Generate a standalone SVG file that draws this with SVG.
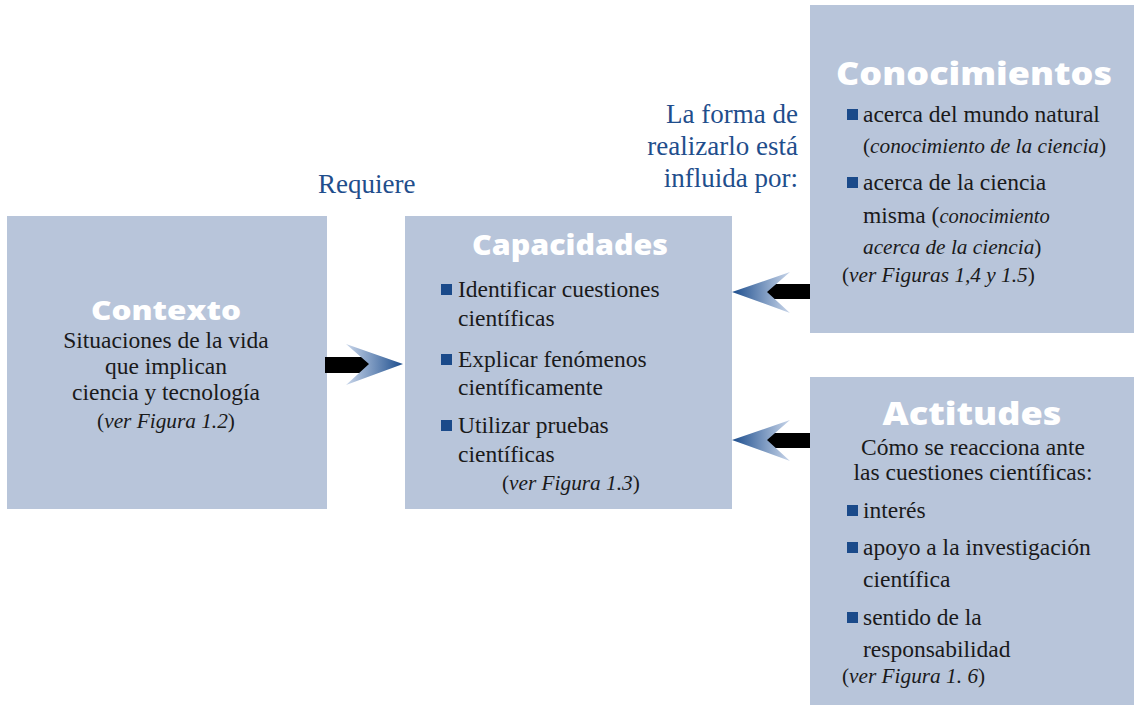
<svg xmlns="http://www.w3.org/2000/svg" width="1134" height="707" viewBox="0 0 1134 707">
<defs>
<linearGradient id="gR" x1="0" y1="0" x2="1" y2="0">
<stop offset="0" stop-color="#c9d6ea"/>
<stop offset="1" stop-color="#1c4d8d"/>
</linearGradient>
<linearGradient id="gL" x1="1" y1="0" x2="0" y2="0">
<stop offset="0" stop-color="#c9d6ea"/>
<stop offset="1" stop-color="#1c4d8d"/>
</linearGradient>
<style>
.box{fill:#b8c5da}
.title{font-family:'Open Sans','DejaVu Sans',sans-serif;font-weight:800;fill:#ffffff;text-anchor:middle}
.body{font-family:'Liberation Serif','Times New Roman',serif;font-size:23.5px;fill:#1a1a1a}
.sm{font-size:21.3px}
.c{text-anchor:middle}
.lbl{font-family:'Liberation Serif','Times New Roman',serif;font-size:27px;fill:#1f4e8c}
.r{text-anchor:end}
.bul{fill:#1a4a8a}
.it{font-style:italic}
</style>
</defs>
<rect x="0" y="0" width="1134" height="707" fill="#ffffff"/>

<g id="contexto">
<rect class="box" x="7" y="216" width="320" height="293"/>
<text class="title" x="166" y="320" font-size="26" textLength="150" lengthAdjust="spacingAndGlyphs">Contexto</text>
<text class="body c" x="166" y="348">Situaciones de la vida</text>
<text class="body c" x="166" y="374">que implican</text>
<text class="body c" x="166" y="400">ciencia y tecnología</text>
<text class="body sm c" x="166" y="428">(<tspan class="it">ver Figura 1.2</tspan>)</text>
</g>

<g id="capacidades">
<rect class="box" x="405" y="216" width="327" height="293"/>
<text class="title" x="570" y="255" font-size="28" textLength="196" lengthAdjust="spacingAndGlyphs">Capacidades</text>
<rect class="bul" x="441" y="284" width="11" height="11"/>
<text class="body" x="458" y="297">Identificar cuestiones</text>
<text class="body" x="458" y="326">científicas</text>
<rect class="bul" x="441" y="354" width="11" height="11"/>
<text class="body" x="458" y="367">Explicar fenómenos</text>
<text class="body" x="458" y="395">científicamente</text>
<rect class="bul" x="441" y="420" width="11" height="11"/>
<text class="body" x="458" y="433">Utilizar pruebas</text>
<text class="body" x="458" y="462">científicas</text>
<text class="body sm" x="502" y="490">(<tspan class="it">ver Figura 1.3</tspan>)</text>
</g>

<g id="conocimientos">
<rect class="box" x="810" y="5" width="324" height="328"/>
<text class="title" x="974" y="85" font-size="31" textLength="276" lengthAdjust="spacingAndGlyphs">Conocimientos</text>
<rect class="bul" x="847" y="109" width="11" height="11"/>
<text class="body" x="863" y="122">acerca del mundo natural</text>
<text class="body sm" x="863" y="153">(<tspan class="it">conocimiento de la ciencia</tspan>)</text>
<rect class="bul" x="847" y="177" width="11" height="11"/>
<text class="body" x="863" y="190">acerca de la ciencia</text>
<text class="body" x="863" y="223">misma (<tspan class="it" font-size="20.5">conocimiento</tspan></text>
<text class="body sm" x="863" y="254"><tspan class="it">acerca de la ciencia</tspan>)</text>
<text class="body sm" x="842" y="282">(<tspan class="it">ver Figuras 1,4 y 1.5</tspan>)</text>
</g>

<g id="actitudes">
<rect class="box" x="810" y="377" width="324" height="328"/>
<text class="title" x="972" y="425" font-size="31" textLength="179" lengthAdjust="spacingAndGlyphs">Actitudes</text>
<text class="body c" x="973" y="455">Cómo se reacciona ante</text>
<text class="body c" x="973" y="480">las cuestiones científicas:</text>
<rect class="bul" x="847" y="505" width="11" height="11"/>
<text class="body" x="863" y="518">interés</text>
<rect class="bul" x="847" y="542" width="11" height="11"/>
<text class="body" x="863" y="555">apoyo a la investigación</text>
<text class="body" x="863" y="587">científica</text>
<rect class="bul" x="847" y="612" width="11" height="11"/>
<text class="body" x="863" y="625">sentido de la</text>
<text class="body" x="863" y="657">responsabilidad</text>
<text class="body sm" x="842" y="683">(<tspan class="it">ver Figura 1. 6</tspan>)</text>
</g>

<g id="labels">
<text class="lbl" x="318" y="193">Requiere</text>
<text class="lbl r" x="798" y="123">La forma de</text>
<text class="lbl r" x="798" y="155">realizarlo está</text>
<text class="lbl r" x="798" y="187">influida por:</text>
</g>

<g id="connectors">
<rect x="325" y="357" width="46" height="16" fill="#000000"/>
<polygon points="346,344 403,364 346,385 369,364" fill="url(#gR)"/>
<rect x="766" y="284" width="44" height="15" fill="#000000"/>
<polygon points="790,272 732,292 790,313 767,292" fill="url(#gL)"/>
<rect x="766" y="433" width="44" height="15" fill="#000000"/>
<polygon points="790,420 732,440 790,461 767,440" fill="url(#gL)"/>
</g>
</svg>
